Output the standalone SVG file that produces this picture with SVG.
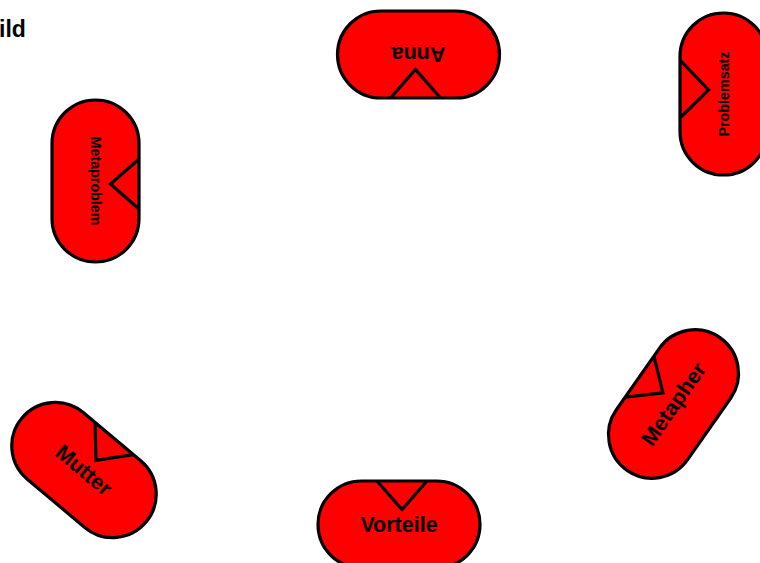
<svg xmlns="http://www.w3.org/2000/svg" width="760" height="563" viewBox="0 0 760 563">
  <style>
    .body { fill: #FF0000; stroke: #000; stroke-width: 3.2; }
    .notch { fill: none; stroke: #000; stroke-width: 3.2; stroke-linejoin: miter; }
    .lbl { font-family: "Liberation Sans", Arial, sans-serif; font-weight: bold; fill: #000; text-anchor: middle; }
    .big { font-size: 21.5px; }
    .small { font-size: 14.3px; }
  </style>
  <defs>
    <rect id="stadium" class="body" x="-81" y="-43.5" width="162" height="87" rx="43.5" ry="43.5"/>
    <g id="pill">
      <use href="#stadium"/>
      <polyline class="notch" points="-22,-43.5 3,-15 28,-43.5"/>
    </g>
  </defs>
  <rect width="760" height="563" fill="#fff"/>
  <text class="lbl" x="-1" y="37" style="font-size:23px;text-anchor:start">ild</text>
  <g id="connectors"/>
  <g id="node-anna" transform="translate(418.5,54.5) rotate(180)">
    <use href="#pill"/>
    <text class="lbl big" x="0" y="7.5">Anna</text>
  </g>
  <g id="node-problemsatz" transform="translate(723.5,94) rotate(-90)">
    <use href="#stadium"/>
    <polyline class="notch" points="-24,-43.5 4,-15 34,-43.5"/>
    <text class="lbl small" x="0" y="5">Problemsatz</text>
  </g>
  <g id="node-metaproblem" transform="translate(95.5,181) rotate(90)">
    <use href="#pill"/>
    <text class="lbl small" x="0" y="5">Metaproblem</text>
  </g>
  <g id="node-metapher" transform="translate(673.5,404) rotate(-55)">
    <use href="#pill"/>
    <text class="lbl big" x="0" y="7.5">Metapher</text>
  </g>
  <g id="node-mutter" transform="translate(84,470) rotate(40)">
    <use href="#pill"/>
    <text class="lbl big" x="0" y="7.5">Mutter</text>
  </g>
  <g id="node-vorteile" transform="translate(399,524.5)">
    <use href="#pill"/>
    <text class="lbl big" x="0" y="7.5">Vorteile</text>
  </g>
</svg>
